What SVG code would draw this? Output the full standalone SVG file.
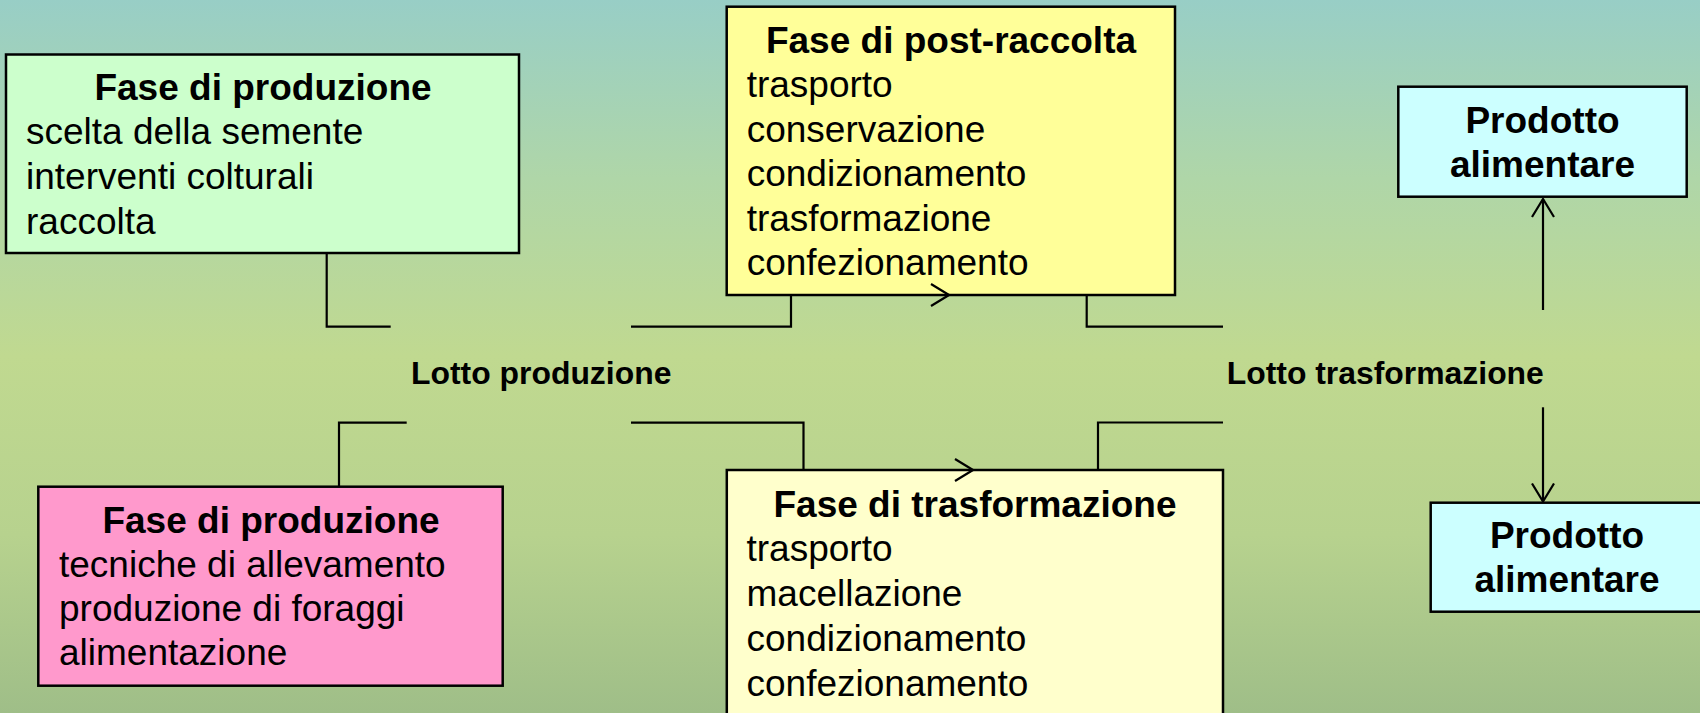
<svg xmlns="http://www.w3.org/2000/svg" width="1700" height="713" viewBox="0 0 1700 713">
<defs>
<linearGradient id="bg" x1="0" y1="0" x2="0" y2="1">
<stop offset="0" stop-color="#98CEC6"/>
<stop offset="0.25" stop-color="#AFD6A8"/>
<stop offset="0.5" stop-color="#C0D990"/>
<stop offset="0.75" stop-color="#B7D28E"/>
<stop offset="1" stop-color="#9FBE88"/>
</linearGradient>
<marker id="arr" viewBox="0 0 20 24" refX="19" refY="12" markerWidth="20" markerHeight="24" markerUnits="userSpaceOnUse" orient="auto">
<path d="M1,1 L19,12 L1,23" fill="none" stroke="#000" stroke-width="2.2"/>
</marker>
</defs>
<style>
.box{stroke:#000;stroke-width:2.5}
.t{font-family:"Liberation Sans",Arial,sans-serif;font-size:37px;fill:#000}
.b{font-weight:bold}
.c{text-anchor:middle}
.l{font-family:"Liberation Sans",Arial,sans-serif;font-size:31.9px;font-weight:bold;fill:#000}
.cn{fill:none;stroke:#000;stroke-width:2.2}
</style>
<rect x="0" y="0" width="1700" height="713" fill="url(#bg)"/>

<g id="fase-produzione-vegetale">
<rect class="box" x="6" y="54.5" width="513" height="198.5" fill="#CCFFCC"/>
<text class="t b c" x="263" y="100">Fase di produzione</text>
<text class="t" x="26" y="144">scelta della semente</text>
<text class="t" x="26" y="189">interventi colturali</text>
<text class="t" x="26" y="233.5">raccolta</text>
</g>

<g id="fase-post-raccolta">
<rect class="box" x="726.7" y="6.7" width="448.3" height="288.3" fill="#FFFF99"/>
<text class="t b c" x="951" y="53.3">Fase di post-raccolta</text>
<text class="t" x="746.7" y="97">trasporto</text>
<text class="t" x="746.7" y="141.7">conservazione</text>
<text class="t" x="746.7" y="186">condizionamento</text>
<text class="t" x="746.7" y="230.5">trasformazione</text>
<text class="t" x="746.7" y="275">confezionamento</text>
</g>

<g id="fase-produzione-animale">
<rect class="box" x="38.3" y="486.7" width="464.4" height="199" fill="#FF99CC"/>
<text class="t b c" x="271" y="532.5">Fase di produzione</text>
<text class="t" x="59" y="576.7">tecniche di allevamento</text>
<text class="t" x="59" y="621">produzione di foraggi</text>
<text class="t" x="59" y="665">alimentazione</text>
</g>

<g id="fase-trasformazione">
<rect class="box" x="726.8" y="470" width="496.2" height="260" fill="#FFFFCC"/>
<text class="t b c" x="975" y="517">Fase di trasformazione</text>
<text class="t" x="746.5" y="561">trasporto</text>
<text class="t" x="746.5" y="606">macellazione</text>
<text class="t" x="746.5" y="651">condizionamento</text>
<text class="t" x="746.5" y="696">confezionamento</text>
</g>

<g id="prodotto-alto">
<rect class="box" x="1398.3" y="86.7" width="288.4" height="110" fill="#CCFFFF"/>
<text class="t b c" x="1542.5" y="133.3">Prodotto</text>
<text class="t b c" x="1542.5" y="176.7">alimentare</text>
</g>

<g id="prodotto-basso">
<rect class="box" x="1430.7" y="502.7" width="272.3" height="109" fill="#CCFFFF"/>
<text class="t b c" x="1567" y="548.3">Prodotto</text>
<text class="t b c" x="1567" y="591.7">alimentare</text>
</g>

<g id="lotto-produzione">
<text class="l" x="411" y="384">Lotto produzione</text>
</g>

<g id="lotto-trasformazione">
<text class="l" x="1226.7" y="383.5">Lotto trasformazione</text>
</g>

<g id="connectors">
<polyline class="cn" points="326.7,253 326.7,326.7 390.7,326.7"/>
<polyline class="cn" points="339,486.7 339,422.7 406.7,422.7"/>
<polyline class="cn" points="631,326.7 791,326.7 791,295 949,295" marker-end="url(#arr)"/>
<polyline class="cn" points="631,422.7 803.5,422.7 803.5,470 973,470" marker-end="url(#arr)"/>
<polyline class="cn" points="1086.7,295 1086.7,326.7 1223,326.7"/>
<polyline class="cn" points="1098,470 1098,422.5 1223,422.5"/>
<line class="cn" x1="1543" y1="310" x2="1543" y2="199" marker-end="url(#arr)"/>
<line class="cn" x1="1543" y1="407.3" x2="1543" y2="501.5" marker-end="url(#arr)"/>
</g>
</svg>
